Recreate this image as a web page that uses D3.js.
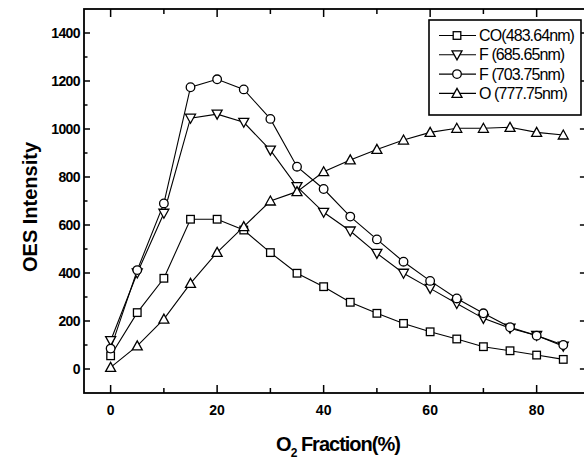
<!DOCTYPE html>
<html>
<head>
<meta charset="utf-8">
<script src="https://cdn.jsdelivr.net/npm/d3@7"></script>
<style>
  body { margin: 0; background: #fff; }
  svg { display: block; font-family: "Liberation Sans", Arial, sans-serif; }
</style>
</head>
<body>
<div id="chart"></div>
<script>
// O2 fraction (%)
var fraction = [0, 5, 10, 15, 20, 25, 30, 35, 40, 45, 50, 55, 60, 65, 70, 75, 80, 85];
// OES intensity per line
var co_483 = [55, 235, 378, 624, 624, 579, 485, 399, 343, 278, 232, 190, 155, 125, 93, 76, 58, 40];
var f_686 = [118, 400, 649, 1045, 1062, 1028, 912, 760, 653, 575, 482, 399, 336, 273, 211, 170, 140, 95];
var f_704 = [85, 412, 690, 1174, 1207, 1165, 1042, 843, 750, 635, 540, 447, 367, 294, 232, 174, 139, 100];
var o_778 = [7, 96, 208, 357, 486, 593, 700, 739, 822, 871, 915, 954, 986, 1003, 1003, 1007, 986, 975];

var seriesNames = ["CO(483.64nm)", "F (685.65nm)", "F (703.75nm)", "O (777.75nm)"];
var yTicks = [0, 200, 400, 600, 800, 1000, 1200, 1400];
var xTicks = [0, 20, 40, 60, 80];

var series = [
  {name: seriesNames[0], values: co_483, shape: "square"},
  {name: seriesNames[1], values: f_686, shape: "down"},
  {name: seriesNames[2], values: f_704, shape: "circle"},
  {name: seriesNames[3], values: o_778, shape: "up"}
];

var W = 584, H = 461;
var x = d3.scaleLinear().domain([-5, 90]).range([84, 589.9]);
var y = d3.scaleLinear().domain([-100, 1500]).range([393, 9]);

var svg = d3.select("#chart").append("svg")
    .attr("width", W).attr("height", H);

// frame
var x0 = x.range()[0], x1 = x.range()[1], y0 = y.range()[0], y1 = y.range()[1];
svg.append("rect")
    .attr("x", x0).attr("y", y1)
    .attr("width", x1 - x0).attr("height", y0 - y1)
    .attr("fill", "none").attr("stroke", "#000").attr("stroke-width", 1.8);

// inward ticks on all sides
var xMinor = d3.range(10, 90, 20);
var yMinor = d3.range(100, 1500, 200);

function ticks(vals, len, side) {
  vals.forEach(function(v) {
    var l = svg.append("line").attr("stroke", "#000").attr("stroke-width", 1.5);
    if (side === "bottom") l.attr("x1", x(v)).attr("x2", x(v)).attr("y1", y0).attr("y2", y0 - len);
    if (side === "top") l.attr("x1", x(v)).attr("x2", x(v)).attr("y1", y1).attr("y2", y1 + len);
    if (side === "left") l.attr("y1", y(v)).attr("y2", y(v)).attr("x1", x0).attr("x2", x0 + len);
    if (side === "right") l.attr("y1", y(v)).attr("y2", y(v)).attr("x1", x1).attr("x2", x1 - len);
  });
}
ticks(xTicks, 8, "bottom"); ticks(xMinor, 5, "bottom");
ticks(xTicks, 8, "top"); ticks(xMinor, 5, "top");
ticks(yTicks, 6, "left"); ticks(yMinor, 3.5, "left");
ticks(yTicks, 10, "right");

// tick labels
svg.selectAll(".xl").data(xTicks).enter().append("text")
    .attr("x", function(d) { return x(d); })
    .attr("y", 415)
    .attr("text-anchor", "middle")
    .attr("font-size", 14).attr("font-weight", "bold")
    .text(function(d) { return d; });

svg.selectAll(".yl").data(yTicks).enter().append("text")
    .attr("x", 80)
    .attr("y", function(d) { return y(d) + 5; })
    .attr("text-anchor", "end")
    .attr("font-size", 14).attr("font-weight", "bold")
    .attr("letter-spacing", -0.6)
    .text(function(d) { return d; });

// axis titles
svg.append("text")
    .attr("transform", "translate(37," + 207 + ") rotate(-90)")
    .attr("text-anchor", "middle")
    .attr("font-size", 20).attr("font-weight", "bold")
    .text("OES Intensity");

var xt = svg.append("text")
    .attr("x", 338).attr("y", 451)
    .attr("text-anchor", "middle")
    .attr("font-size", 20).attr("font-weight", "bold")
    .attr("letter-spacing", -1);
xt.append("tspan").text("O");
xt.append("tspan").attr("font-size", 12).attr("dy", 6).text("2");
xt.append("tspan").attr("dy", -6).text(" Fraction(%)");

// markers
function drawMarker(g, shape, cx, cy) {
  var s;
  if (shape === "square") {
    s = g.append("rect").attr("x", cx - 3.8).attr("y", cy - 3.8).attr("width", 7.6).attr("height", 7.6);
  } else if (shape === "circle") {
    s = g.append("circle").attr("cx", cx).attr("cy", cy).attr("r", 4.3);
  } else if (shape === "down") {
    s = g.append("path").attr("d", "M" + (cx - 5) + "," + (cy - 4) + "L" + (cx + 5) + "," + (cy - 4) + "L" + cx + "," + (cy + 5) + "Z");
  } else {
    s = g.append("path").attr("d", "M" + (cx - 5) + "," + (cy + 4) + "L" + (cx + 5) + "," + (cy + 4) + "L" + cx + "," + (cy - 5) + "Z");
  }
  s.attr("fill", "#fff").attr("stroke", "#000").attr("stroke-width", 1.3);
}

var line = d3.line()
    .x(function(d, i) { return x(fraction[i]); })
    .y(function(d) { return y(d); });

series.forEach(function(s) {
  svg.append("path")
      .datum(s.values)
      .attr("fill", "none").attr("stroke", "#000").attr("stroke-width", 1.1)
      .attr("d", line);
});
series.forEach(function(s) {
  var g = svg.append("g");
  s.values.forEach(function(v, i) { drawMarker(g, s.shape, x(fraction[i]), y(v)); });
});

// legend
var lg = svg.append("g");
lg.append("rect")
    .attr("x", 429).attr("y", 20).attr("width", 152).attr("height", 95)
    .attr("fill", "#fff").attr("stroke", "#000").attr("stroke-width", 1.6);
series.forEach(function(s, i) {
  var ly = 35.5 + i * 19.3;
  lg.append("line").attr("x1", 439).attr("x2", 476).attr("y1", ly).attr("y2", ly)
      .attr("stroke", "#000").attr("stroke-width", 1.1);
  drawMarker(lg, s.shape, 457, ly);
  lg.append("text")
      .attr("x", 479).attr("y", ly + 5.5)
      .attr("font-size", 16)
      .attr("letter-spacing", -0.9)
      .text(s.name);
});
</script>
</body>
</html>
